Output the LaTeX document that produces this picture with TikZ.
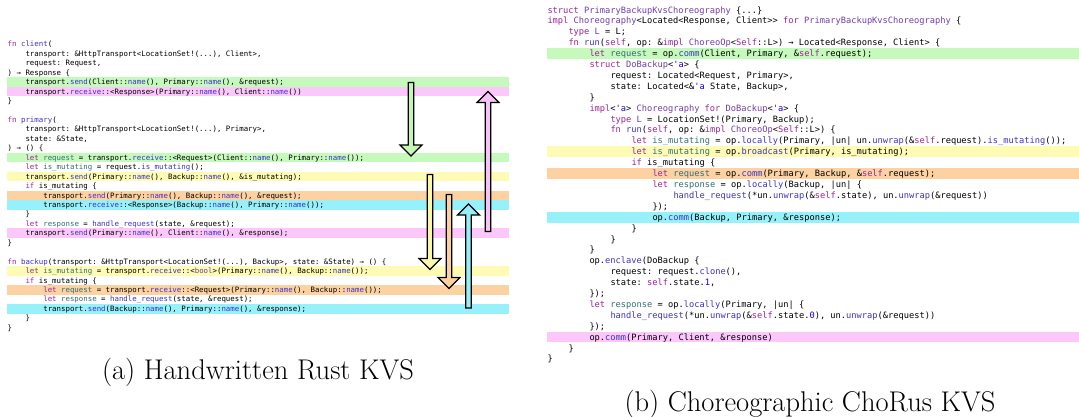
\documentclass[tikz,border=0pt]{standalone}
\usepackage{fontspec}
\setmonofont{DejaVu Sans Mono}
\usetikzlibrary{calc}

% syntax colours
\definecolor{kwcol}{HTML}{9B2393}
\definecolor{fncol}{HTML}{3C32C8}
\definecolor{tycol}{HTML}{703DAA}
\definecolor{bdcol}{HTML}{326D74}
\definecolor{nucol}{HTML}{1C00CF}
% highlight bands
\definecolor{bandG}{HTML}{C6FABC}
\definecolor{bandP}{HTML}{FCC8FC}
\definecolor{bandY}{HTML}{FEFCB4}
\definecolor{bandO}{HTML}{FDD2A2}
\definecolor{bandC}{HTML}{96F1FB}
% block-arrow fills
\definecolor{arrG}{HTML}{C4F6B4}
\definecolor{arrP}{HTML}{F7C2F7}
\definecolor{arrY}{HTML}{FBF7AA}
\definecolor{arrO}{HTML}{FBD09E}
\definecolor{arrC}{HTML}{98EEF8}

\newcommand\kwd[1]{\textcolor{kwcol}{#1}}
\newcommand\fnc[1]{\textcolor{fncol}{#1}}
\newcommand\typ[1]{\textcolor{tycol}{#1}}
\newcommand\bnd[1]{\textcolor{bdcol}{#1}}
\newcommand\numc[1]{\textcolor{nucol}{#1}}

% left listing: name, indent (chars), line number, text
\newcommand\Lline[4]{\node[lcode] (#1) at ({7.5+#2*4.45},{44.2+(#3-1)*9.45+2.6}) {#4};}
\newcommand\Lband[2]{\fill[#1] (7,{44.2+(#2-1)*9.45-4.75}) rectangle (509,{44.2+(#2-1)*9.45+4.75});}
% right listing
\newcommand\Rline[4]{\node[rcode] (#1) at ({547.3+#2*5.25},{10+(#3-1)*10.9+3.1}) {#4};}
\newcommand\Rband[2]{\fill[#1] (547,{10+(#2-1)*10.9-5.45}) rectangle (1079,{10+(#2-1)*10.9+5.45});}
% outlined block arrow from a tail coordinate to a tip coordinate
\newcommand\fatarrow[3]{%
  \filldraw[fill=#1, arrline]
    let \p1=(#2), \p2=(#3), \p3=($(#3)!11pt!(#2)$) in
    (\x1-2.8pt,\y1) -- (\x1-2.8pt,\y3) -- (\x1-11pt,\y3) -- (\x2,\y2)
    -- (\x1+11pt,\y3) -- (\x1+2.8pt,\y3) -- (\x1+2.8pt,\y1) -- cycle;}

\begin{document}
\begin{tikzpicture}[x=1pt,y=-1pt,
  lcode/.style={anchor=base west, inner sep=0pt, font=\fontsize{7.4}{9}\selectfont\ttfamily},
  rcode/.style={anchor=base west, inner sep=0pt, font=\fontsize{8.7}{10}\selectfont\ttfamily},
  caption/.style={anchor=base, inner sep=0pt, font=\fontsize{28.5}{33}\selectfont},
  arrline/.style={draw=black, line width=1.2pt, line join=miter}]
\useasboundingbox (0,0) rectangle (1079,417);

% ---------- (a) handwritten Rust ----------
\Lband{bandG}{5}
\Lband{bandP}{6}
\Lband{bandG}{13}
\Lband{bandY}{15}
\Lband{bandO}{17}
\Lband{bandC}{18}
\Lband{bandP}{21}
\Lband{bandY}{25}
\Lband{bandO}{27}
\Lband{bandC}{29}

\Lline{a1}{0}{1}{\kwd{fn} \fnc{client}(}
\Lline{a2}{4}{2}{transport: \&HttpTransport<LocationSet!(...), Client>,}
\Lline{a3}{4}{3}{request: Request,}
\Lline{a4}{0}{4}{) → Response \{}
\Lline{a5}{4}{5}{transport.\fnc{send}(Client::\fnc{name}(), Primary::\fnc{name}(), \&request);}
\Lline{a6}{4}{6}{transport.\fnc{receive}::<Response>(Primary::\fnc{name}(), Client::\fnc{name}())}
\Lline{a7}{0}{7}{\}}
\Lline{a9}{0}{9}{\kwd{fn} \fnc{primary}(}
\Lline{a10}{4}{10}{transport: \&HttpTransport<LocationSet!(...), Primary>,}
\Lline{a11}{4}{11}{state: \&State,}
\Lline{a12}{0}{12}{) → () \{}
\Lline{a13}{4}{13}{\kwd{let} \bnd{request} = transport.\fnc{receive}::<Request>(Client::\fnc{name}(), Primary::\fnc{name}());}
\Lline{a14}{4}{14}{\kwd{let} \bnd{is\_mutating} = request.\fnc{is\_mutating}();}
\Lline{a15}{4}{15}{transport.\fnc{send}(Primary::\fnc{name}(), Backup::\fnc{name}(), \&is\_mutating);}
\Lline{a16}{4}{16}{\kwd{if} is\_mutating \{}
\Lline{a17}{8}{17}{transport.\fnc{send}(Primary::\fnc{name}(), Backup::\fnc{name}(), \&request);}
\Lline{a18}{8}{18}{transport.\fnc{receive}::<Response>(Backup::\fnc{name}(), Primary::\fnc{name}());}
\Lline{a19}{4}{19}{\}}
\Lline{a20}{4}{20}{\kwd{let} \bnd{response} = \fnc{handle\_request}(state, \&request);}
\Lline{a21}{4}{21}{transport.\fnc{send}(Primary::\fnc{name}(), Client::\fnc{name}(), \&response);}
\Lline{a22}{0}{22}{\}}
\Lline{a24}{0}{24}{\kwd{fn} \fnc{backup}(transport: \&HttpTransport<LocationSet!(...), Backup>, state: \&State) → () \{}
\Lline{a25}{4}{25}{\kwd{let} \bnd{is\_mutating} = transport.\fnc{receive}::<\typ{bool}>(Primary::\fnc{name}(), Backup::\fnc{name}());}
\Lline{a26}{4}{26}{\kwd{if} is\_mutating \{}
\Lline{a27}{8}{27}{\kwd{let} \bnd{request} = transport.\fnc{receive}::<Request>(Primary::\fnc{name}(), Backup::\fnc{name}());}
\Lline{a28}{8}{28}{\kwd{let} \bnd{response} = \fnc{handle\_request}(state, \&request);}
\Lline{a29}{8}{29}{transport.\fnc{send}(Backup::\fnc{name}(), Primary::\fnc{name}(), \&response);}
\Lline{a30}{4}{30}{\}}
\Lline{a31}{0}{31}{\}}

% message-flow arrows
\coordinate (gTail) at (411,82.5);   \coordinate (gTip) at (411,156);
\coordinate (pTail) at (488,231.5);  \coordinate (pTip) at (488,91.5);
\coordinate (yTail) at (430,174.5);  \coordinate (yTip) at (430,269.5);
\coordinate (oTail) at (449,194.5);  \coordinate (oTip) at (449,288.5);
\coordinate (cTail) at (468.5,308);  \coordinate (cTip) at (468.5,204);
\fatarrow{arrG}{gTail}{gTip}
\fatarrow{arrP}{pTail}{pTip}
\fatarrow{arrY}{yTail}{yTip}
\fatarrow{arrO}{oTail}{oTip}
\fatarrow{arrC}{cTail}{cTip}

\node[caption] (capA) at (258,379.5) {(a) Handwritten Rust KVS};

% ---------- (b) choreographic ChoRus ----------
\Rband{bandG}{5}
\Rband{bandY}{14}
\Rband{bandO}{16}
\Rband{bandC}{20}
\Rband{bandP}{31}

\Rline{b1}{0}{1}{\kwd{struct} \typ{PrimaryBackupKvsChoreography} \{...\}}
\Rline{b2}{0}{2}{\kwd{impl} \typ{Choreography}<Located<Response, Client>> \kwd{for} \typ{PrimaryBackupKvsChoreography} \{}
\Rline{b3}{4}{3}{\kwd{type} \typ{L} = L;}
\Rline{b4}{4}{4}{\kwd{fn} \fnc{run}(\kwd{self}, op: \&\kwd{impl} \typ{ChoreoOp}<\kwd{Self}::L>) → Located<Response, Client> \{}
\Rline{b5}{8}{5}{\kwd{let} \bnd{request} = op.\fnc{comm}(Client, Primary, \&\kwd{self}.request);}
\Rline{b6}{8}{6}{\kwd{struct} \typ{DoBackup}<\numc{'a}> \{}
\Rline{b7}{12}{7}{request: Located<Request, Primary>,}
\Rline{b8}{12}{8}{state: Located<\&\numc{'a} State, Backup>,}
\Rline{b9}{8}{9}{\}}
\Rline{b10}{8}{10}{\kwd{impl}<\numc{'a}> \typ{Choreography} \kwd{for} \typ{DoBackup}<\numc{'a}> \{}
\Rline{b11}{12}{11}{\kwd{type} \typ{L} = LocationSet!(Primary, Backup);}
\Rline{b12}{12}{12}{\kwd{fn} \fnc{run}(\kwd{self}, op: \&\kwd{impl} \typ{ChoreoOp}<\kwd{Self}::L>) \{}
\Rline{b13}{16}{13}{\kwd{let} \bnd{is\_mutating} = op.\fnc{locally}(Primary, |un| un.\fnc{unwrap}(\&\kwd{self}.request).\fnc{is\_mutating}());}
\Rline{b14}{16}{14}{\kwd{let} \bnd{is\_mutating} = op.\fnc{broadcast}(Primary, is\_mutating);}
\Rline{b15}{16}{15}{\kwd{if} is\_mutating \{}
\Rline{b16}{20}{16}{\kwd{let} \bnd{request} = op.\fnc{comm}(Primary, Backup, \&\kwd{self}.request);}
\Rline{b17}{20}{17}{\kwd{let} \bnd{response} = op.\fnc{locally}(Backup, |un| \{}
\Rline{b18}{24}{18}{\fnc{handle\_request}(*un.\fnc{unwrap}(\&\kwd{self}.state), un.\fnc{unwrap}(\&request))}
\Rline{b19}{20}{19}{\});}
\Rline{b20}{20}{20}{op.\fnc{comm}(Backup, Primary, \&response);}
\Rline{b21}{16}{21}{\}}
\Rline{b22}{12}{22}{\}}
\Rline{b23}{8}{23}{\}}
\Rline{b24}{8}{24}{op.\fnc{enclave}(DoBackup \{}
\Rline{b25}{12}{25}{request: request.\fnc{clone}(),}
\Rline{b26}{12}{26}{state: \kwd{self}.state.\numc{1},}
\Rline{b27}{8}{27}{\});}
\Rline{b28}{8}{28}{\kwd{let} \bnd{response} = op.\fnc{locally}(Primary, |un| \{}
\Rline{b29}{12}{29}{\fnc{handle\_request}(*un.\fnc{unwrap}(\&\kwd{self}.state.\numc{0}), un.\fnc{unwrap}(\&request))}
\Rline{b30}{8}{30}{\});}
\Rline{b31}{8}{31}{op.\fnc{comm}(Primary, Client, \&response)}
\Rline{b32}{4}{32}{\}}
\Rline{b33}{0}{33}{\}}

\node[caption] (capB) at (810,411) {(b) Choreographic ChoRus KVS};
\end{tikzpicture}
\end{document}
